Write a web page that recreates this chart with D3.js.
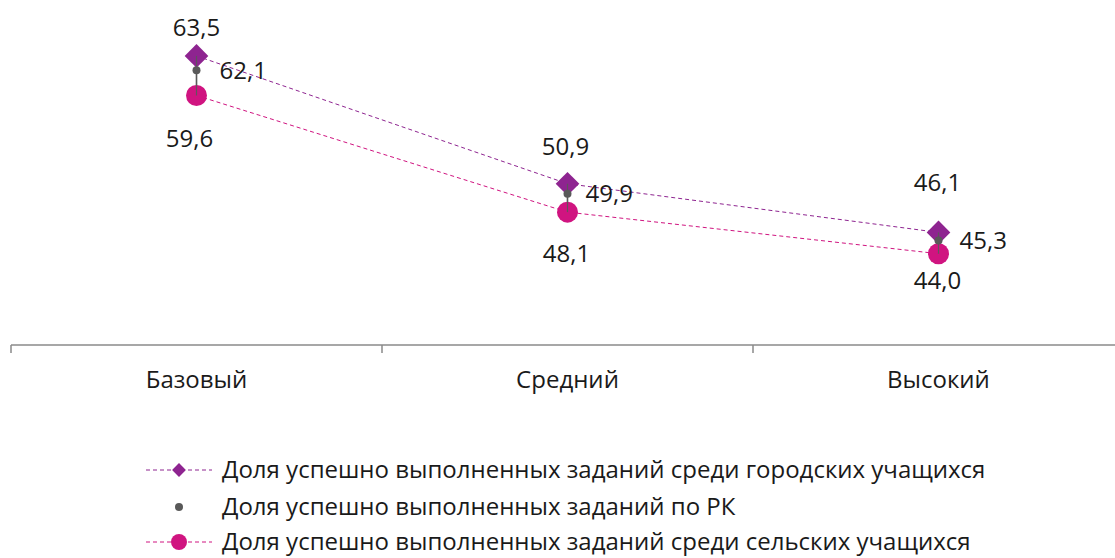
<!DOCTYPE html>
<html><head><meta charset="utf-8">
<script src="https://cdn.jsdelivr.net/npm/d3@7"></script>
<style>body{margin:0;background:#fff}text{font-family:"Open Sans","Noto Sans",sans-serif}</style>
</head><body><svg id="c" width="1115" height="558"></svg>
<script>
const categories = ["Базовый", "Средний", "Высокий"];
const cityValues = [63.5, 50.9, 46.1];
const rkValues = [62.1, 49.9, 45.3];
const ruralValues = [59.6, 48.1, 44.0];
const seriesNames = [
  "Доля успешно выполненных заданий среди городских учащихся",
  "Доля успешно выполненных заданий по РК",
  "Доля успешно выполненных заданий среди сельских учащихся"
];
const fmt = v => v.toFixed(1).replace(".", ",");

const svg = d3.select("#c");
const x = d3.scaleBand().domain(categories).range([11, 1124]).padding(0);
const y = d3.scaleLinear().domain([35, 70]).range([345, -10]);
const cx = c => x(c) + x.bandwidth() / 2;

const cityCol = "#8E2490", ruralCol = "#D01480", rkCol = "#595959";
const FS = 24;

// axis
const ax = svg.append("g").attr("transform", "translate(0,345)")
  .call(d3.axisBottom(x).tickSize(8).tickFormat(""));
ax.select(".domain").attr("stroke", "#8a8a8a").attr("stroke-width", 1.5).attr("d", "M11,0H1115");
ax.selectAll(".tick").remove();
[...categories, null].forEach((c, i) => {
  const xx = 11 + i * x.bandwidth();
  ax.append("line").attr("x1", xx).attr("x2", xx).attr("y1", 0).attr("y2", 8).attr("stroke", "#8a8a8a").attr("stroke-width", 1.5);
});
categories.forEach(c => {
  svg.append("text").attr("x", cx(c)).attr("y", 380).attr("dy", "0.35em").attr("text-anchor", "middle")
    .attr("font-size", FS).attr("fill", "#1a1a1a").text(c);
});

// high-low lines
categories.forEach((c, i) => {
  svg.append("line").attr("x1", cx(c)).attr("x2", cx(c))
    .attr("y1", y(cityValues[i])).attr("y2", y(ruralValues[i]))
    .attr("stroke", rkCol).attr("stroke-width", 1.5);
});

const line = vals => d3.line().x((d, i) => cx(categories[i])).y(d => y(d))(vals);
svg.append("path").attr("d", line(cityValues)).attr("fill", "none").attr("stroke", cityCol)
  .attr("stroke-width", 1).attr("stroke-dasharray", "4,3");
svg.append("path").attr("d", line(ruralValues)).attr("fill", "none").attr("stroke", ruralCol)
  .attr("stroke-width", 1).attr("stroke-dasharray", "4,3");

const diamond = d3.symbol().type(d3.symbolSquare).size(280);
categories.forEach((c, i) => {
  svg.append("circle").attr("cx", cx(c)).attr("cy", y(ruralValues[i])).attr("r", 10.5).attr("fill", ruralCol);
});
categories.forEach((c, i) => {
  svg.append("path").attr("d", diamond()).attr("fill", cityCol)
    .attr("transform", `translate(${cx(c)},${y(cityValues[i])}) rotate(45)`);
});
categories.forEach((c, i) => {
  svg.append("line").attr("x1", cx(c)).attr("x2", cx(c))
    .attr("y1", y(cityValues[i])).attr("y2", y(ruralValues[i]))
    .attr("stroke", rkCol).attr("stroke-width", 1.2).attr("opacity", 0.9);
});
categories.forEach((c, i) => {
  svg.append("circle").attr("cx", cx(c)).attr("cy", y(rkValues[i])).attr("r", 4).attr("fill", rkCol);
});

// labels
const cityOff = [[0, -28], [-2, -37], [-1, -50]];
const ruralOff = [[-7, 43], [-1, 41], [-1, 27]];
const rkOff = [[23, 0], [18, 0], [21, 0]];
categories.forEach((c, i) => {
  svg.append("text").attr("x", cx(c) + cityOff[i][0]).attr("y", y(cityValues[i]) + cityOff[i][1])
    .attr("dy", "0.35em").attr("text-anchor", "middle").attr("font-size", FS).attr("fill", "#1a1a1a").text(fmt(cityValues[i]));
  svg.append("text").attr("x", cx(c) + ruralOff[i][0]).attr("y", y(ruralValues[i]) + ruralOff[i][1])
    .attr("dy", "0.35em").attr("text-anchor", "middle").attr("font-size", FS).attr("fill", "#1a1a1a").text(fmt(ruralValues[i]));
  svg.append("text").attr("x", cx(c) + rkOff[i][0]).attr("y", y(rkValues[i]) + rkOff[i][1])
    .attr("dy", "0.35em").attr("text-anchor", "start").attr("font-size", FS).attr("fill", "#1a1a1a").text(fmt(rkValues[i]));
});

// legend
const ly = [470, 507, 542];
const lg = svg.append("g");
[0, 1, 2].forEach(k => {
  const yy = ly[k];
  if (k !== 1) {
    lg.append("line").attr("x1", 146).attr("x2", 212).attr("y1", yy).attr("y2", yy)
      .attr("stroke", k === 0 ? cityCol : ruralCol).attr("stroke-width", 1).attr("stroke-dasharray", "4,3");
  }
  if (k === 0) lg.append("path").attr("d", d3.symbol().type(d3.symbolSquare).size(95)()).attr("fill", cityCol)
    .attr("transform", `translate(179,${yy}) rotate(45)`);
  if (k === 1) lg.append("circle").attr("cx", 179).attr("cy", yy).attr("r", 4).attr("fill", rkCol);
  if (k === 2) lg.append("circle").attr("cx", 179).attr("cy", yy).attr("r", 8).attr("fill", ruralCol);
  lg.append("text").attr("x", 222).attr("y", yy).attr("dy", "0.35em").attr("font-size", FS).attr("fill", "#1a1a1a").text(seriesNames[k]);
});
</script></body></html>
